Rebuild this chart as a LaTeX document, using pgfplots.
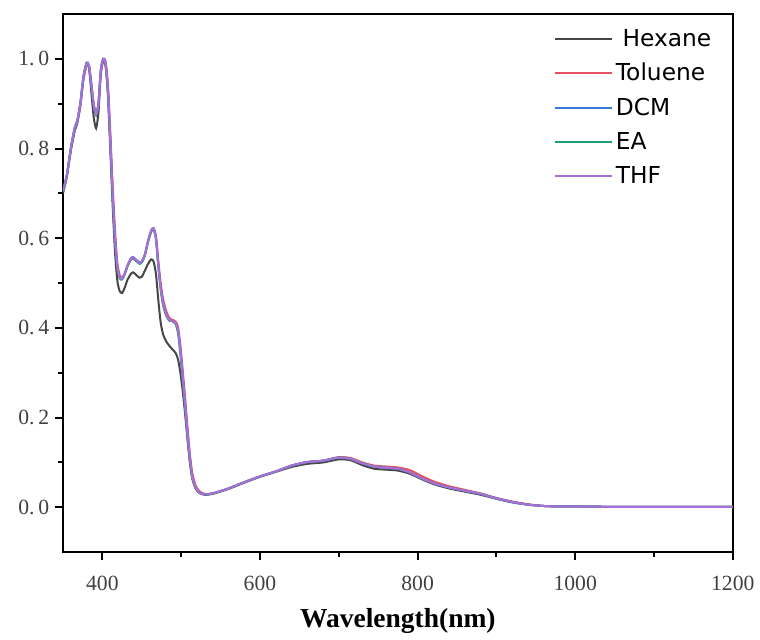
\documentclass[border=0pt]{standalone}
\usepackage{fontspec}
\setmainfont{Liberation Serif}
\newfontfamily\legfont{DejaVu Sans}
\usepackage{pgfplots}
\usepackage{pgfplotstable}
\pgfplotsset{compat=1.18}

\definecolor{hexc}{RGB}{70,70,70}
\definecolor{tolc}{RGB}{232,80,100}
\definecolor{dcmc}{RGB}{60,120,220}
\definecolor{eac}{RGB}{30,160,110}
\definecolor{thfc}{RGB}{170,110,220}

% absorption spectra, normalised
\pgfplotstableread{
x     hex    tol    dcm    ea     thf
350 0.700 0.705 0.705 0.703 0.706
355 0.738 0.742 0.742 0.740 0.742
360 0.795 0.800 0.802 0.800 0.801
365 0.840 0.845 0.848 0.846 0.846
368 0.855 0.858 0.862 0.860 0.860
372 0.895 0.895 0.902 0.900 0.900
376 0.955 0.955 0.962 0.960 0.960
380 0.988 0.985 0.992 0.990 0.990
383 0.980 0.985 0.985 0.984 0.985
386 0.925 0.945 0.942 0.940 0.942
389 0.870 0.900 0.897 0.895 0.897
392 0.845 0.878 0.876 0.874 0.876
395 0.880 0.898 0.902 0.900 0.900
398 0.965 0.968 0.976 0.974 0.974
401 0.995 0.998 1.000 0.999 1.000
404 0.985 0.995 0.990 0.988 0.990
407 0.920 0.945 0.930 0.928 0.932
410 0.800 0.840 0.820 0.815 0.822
413 0.675 0.720 0.700 0.695 0.702
416 0.570 0.620 0.600 0.595 0.602
419 0.505 0.545 0.535 0.532 0.536
422 0.482 0.518 0.512 0.510 0.513
425 0.478 0.512 0.510 0.508 0.510
428 0.488 0.520 0.520 0.518 0.520
432 0.508 0.538 0.540 0.538 0.540
436 0.520 0.552 0.555 0.552 0.554
439 0.524 0.555 0.558 0.555 0.557
443 0.518 0.550 0.552 0.549 0.551
447 0.512 0.545 0.546 0.543 0.545
450 0.514 0.547 0.548 0.546 0.548
454 0.528 0.562 0.565 0.562 0.564
458 0.543 0.592 0.595 0.592 0.594
462 0.553 0.615 0.618 0.615 0.617
465 0.548 0.622 0.622 0.619 0.621
468 0.520 0.605 0.600 0.597 0.600
471 0.462 0.550 0.540 0.535 0.540
474 0.412 0.500 0.490 0.485 0.490
477 0.386 0.465 0.455 0.450 0.455
481 0.370 0.438 0.430 0.427 0.430
485 0.360 0.422 0.418 0.416 0.418
489 0.352 0.418 0.415 0.415 0.415
493 0.344 0.414 0.410 0.408 0.410
496 0.330 0.402 0.395 0.388 0.395
499 0.300 0.362 0.350 0.340 0.350
502 0.258 0.305 0.290 0.280 0.290
505 0.208 0.245 0.230 0.220 0.230
508 0.152 0.180 0.165 0.158 0.165
511 0.100 0.120 0.110 0.105 0.110
514 0.065 0.078 0.070 0.067 0.070
518 0.043 0.050 0.045 0.044 0.045
523 0.032 0.036 0.033 0.033 0.033
530 0.028 0.030 0.029 0.029 0.029
540 0.030 0.031 0.031 0.031 0.031
560 0.041 0.042 0.042 0.042 0.042
580 0.055 0.056 0.056 0.056 0.056
600 0.068 0.069 0.069 0.069 0.069
620 0.079 0.080 0.080 0.080 0.080
640 0.090 0.093 0.093 0.093 0.093
660 0.097 0.101 0.101 0.101 0.101
680 0.100 0.104 0.104 0.104 0.104
700 0.107 0.112 0.111 0.111 0.111
715 0.105 0.110 0.108 0.108 0.108
730 0.094 0.100 0.098 0.098 0.098
745 0.086 0.093 0.091 0.091 0.091
760 0.084 0.091 0.088 0.088 0.088
775 0.082 0.089 0.086 0.086 0.086
790 0.075 0.083 0.078 0.078 0.078
805 0.063 0.070 0.065 0.065 0.065
820 0.052 0.058 0.054 0.054 0.054
840 0.042 0.047 0.044 0.044 0.044
860 0.035 0.039 0.037 0.037 0.037
880 0.028 0.031 0.030 0.030 0.030
900 0.019 0.021 0.020 0.020 0.020
920 0.011 0.013 0.012 0.012 0.012
940 0.006 0.007 0.006 0.006 0.006
960 0.003 0.003 0.003 0.003 0.003
980 0.002 0.002 0.002 0.002 0.002
1000 0.002 0.002 0.002 0.002 0.002
1050 0.001 0.001 0.001 0.001 0.001
1100 0.001 0.001 0.001 0.001 0.001
1150 0.001 0.001 0.001 0.001 0.001
1200 0.001 0.001 0.001 0.001 0.001
}\spectra

\begin{document}
\begin{tikzpicture}
\begin{axis}[
    width=402pt, height=323pt, scale only axis,
    xmin=350, xmax=1200, ymin=-0.1, ymax=1.1,
    xtick={400,600,800,1000,1200},
    minor xtick={500,700,900,1100},
    ytick={0,0.2,0.4,0.6,0.8,1.0},
    minor ytick={0.1,0.3,0.5,0.7,0.9},
    yticklabels={0.\,0,0.\,2,0.\,4,0.\,6,0.\,8,1.\,0},
    xtick pos=bottom, ytick pos=left,
    tick align=outside,
    major tick length=4.8pt, minor tick length=3pt,
    every tick/.style={black, line width=1.2pt},
    axis line style={line width=1.2pt},
    /pgf/number format/assume math mode=true,
    xticklabel style={/pgf/number format/1000 sep={}, yshift=-6pt},
    tick label style={font=\fontsize{13}{13}\selectfont, text=black!75},
    xlabel={\textbf{Wavelength(nm)}},
    xlabel style={font=\fontsize{16.5}{16.5}\selectfont, yshift=-4pt},
    legend style={at={(0.725,0.985)}, anchor=north west, draw=none, fill=none,
        font=\legfont\fontsize{14}{14}\selectfont, row sep=4.7pt},
    legend cell align=left,
    legend image code/.code={\draw[#1, line width=1.2pt] (0pt,0pt) -- (34pt,0pt);},
    every axis plot/.append style={line width=1.2pt, smooth, tension=0.4},
]
\addplot[hexc] table[x=x, y=hex] {\spectra};
\addlegendentry{\hspace{4pt}Hexane}
\addplot[tolc] table[x=x, y=tol] {\spectra};
\addlegendentry{Toluene}
\addplot[dcmc] table[x=x, y=dcm] {\spectra};
\addlegendentry{DCM}
\addplot[eac] table[x=x, y=ea] {\spectra};
\addlegendentry{EA}
\addplot[thfc] table[x=x, y=thf] {\spectra};
\addlegendentry{THF}
\end{axis}
\path ([shift={(-37.8pt,-49.8pt)}]current axis.south west) rectangle ([shift={(16.2pt,8.4pt)}]current axis.north east);
\end{tikzpicture}
\end{document}
